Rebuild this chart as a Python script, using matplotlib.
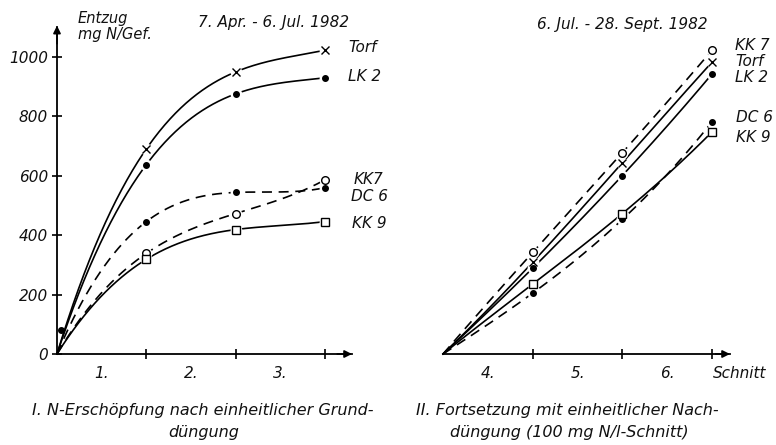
import numpy as np
import matplotlib
matplotlib.use("Agg")
import matplotlib.pyplot as plt

# ---------------- data ----------------
cuts = [0, 1, 2, 3]
# Period I: 7 Apr - 6 Jul 1982 (cumulative N uptake, mg N / pot)
torf_I = [0, 691, 950, 1023]
lk2_I = [0, 638, 876, 930]
dc6_I = [0, 446, 544, 560]
kk7_I = [0, 339, 473, 587]
kk9_I = [0, 319, 419, 446]
start_dot_x = [0.04]
start_dot_y = [80]
# Period II: 6 Jul - 28 Sept 1982
torf_II = [0, 309, 644, 983]
lk2_II = [0, 289, 601, 943]
dc6_II = [0, 205, 453, 782]
kk7_II = [0, 342, 678, 1023]
kk9_II = [0, 235, 473, 748]

yticks = [0, 200, 400, 600, 800, 1000]
xlabels_I = ["1.", "2.", "3."]
xlabels_II = ["4.", "5.", "6."]

W, H = 776, 445
fig = plt.figure(figsize=(W / 100, H / 100), dpi=100)
fx = lambda px: px / W
fy = lambda py: 1 - py / H

FONT = dict(family="DejaVu Sans", style="italic", color="#111111")
LW = 1.2
DASH = (0, (6, 4))

axL = fig.add_axes([fx(57), fy(354), 295 / W, 326.7 / H])
axR = fig.add_axes([fx(443), fy(354), 287 / W, 326.7 / H])

for ax, xmax, labs in ((axL, 3.3, xlabels_I), (axR, 3.2, xlabels_II)):
    ax.set_xlim(0, xmax)
    ax.set_ylim(0, 1100)
    ax.patch.set_alpha(0)
    for s in ("top", "right"):
        ax.spines[s].set_visible(False)
    ax.spines["bottom"].set_linewidth(1.3)
    ax.spines["left"].set_linewidth(1.3)
    ax.set_xticks([1, 2, 3])
    ax.set_xticklabels([])
    ax.tick_params(axis="x", which="major", direction="inout", length=7, width=1.2)
    ax.set_xticks([0.5, 1.5, 2.5], minor=True)
    ax.set_xticklabels(labs, minor=True, fontsize=11, **FONT)
    ax.tick_params(axis="x", which="minor", length=0, pad=9)
    ax.annotate("", xy=(1, 0), xycoords="axes fraction", xytext=(0.95, 0),
                arrowprops=dict(arrowstyle="-|>", color="k", lw=1.2,
                                mutation_scale=11, shrinkA=0, shrinkB=0))

axR.spines["left"].set_visible(False)
axR.set_yticks([])
axL.set_yticks(yticks)
axL.set_yticklabels([str(v) for v in yticks], fontsize=11, **FONT)
axL.tick_params(axis="y", direction="inout", length=7, width=1.2, pad=3)
axL.annotate("", xy=(0, 1.005), xycoords="axes fraction", xytext=(0, 0.95),
             arrowprops=dict(arrowstyle="-|>", color="k", lw=1.2,
                             mutation_scale=11, shrinkA=0, shrinkB=0))

series = [
    ("Torf", "-", "x", "none", 5.5),
    ("LK 2", "-", "o", "k", 4),
    ("DC 6", DASH, "o", "k", 4),
    ("KK 7", DASH, "o", "white", 5.5),
    ("KK 9", "-", "s", "white", 5.5),
]
data_I = [torf_I, lk2_I, dc6_I, kk7_I, kk9_I]
data_II = [torf_II, lk2_II, dc6_II, kk7_II, kk9_II]

xs = np.linspace(0, 3, 300)
for ax, dataset in ((axL, data_I), (axR, data_II)):
    for (name, ls, mk, fc, ms), vals in zip(series, dataset):
        coef = np.polyfit(cuts, vals, len(cuts) - 1)  # smooth curve through the points
        ax.plot(xs, np.polyval(coef, xs), color="k", lw=LW, linestyle=ls,
                zorder=2, clip_on=False)
    for (name, ls, mk, fc, ms), vals in zip(series, dataset):
        ax.plot(cuts[1:], vals[1:], linestyle="none", marker="o", ms=8.5,
                mfc="white", mec="none", zorder=3, clip_on=False)
    for (name, ls, mk, fc, ms), vals in zip(series, dataset):
        ax.plot(cuts[1:], vals[1:], linestyle="none", marker=mk, ms=ms,
                mfc=fc, mec="k", mew=1.0, zorder=4, clip_on=False)

axL.plot(start_dot_x, start_dot_y, "o", color="k", ms=4, zorder=4, clip_on=False)

# series labels
for txt, px, py in (("Torf", 348, 47), ("LK 2", 348, 77), ("KK7", 354, 180),
                    ("DC 6", 351, 196), ("KK 9", 352, 223)):
    fig.text(fx(px), fy(py), txt, fontsize=11, va="center", ha="left", **FONT)
for txt, px, py in (("KK 7", 735, 45), ("Torf", 735, 61), ("LK 2", 735, 78),
                    ("DC 6", 736, 118), ("KK 9", 736, 137)):
    fig.text(fx(px), fy(py), txt, fontsize=11, va="center", ha="left", **FONT)

fig.text(fx(78), fy(18), "Entzug", fontsize=10.5, va="center", ha="left", **FONT)
fig.text(fx(78), fy(34), "mg N/Gef.", fontsize=10.5, va="center", ha="left", **FONT)
fig.text(fx(274), fy(23), "7. Apr. - 6. Jul. 1982", fontsize=11, va="center", ha="center", **FONT)
fig.text(fx(622), fy(25), "6. Jul. - 28. Sept. 1982", fontsize=11, va="center", ha="center", **FONT)
fig.text(fx(713), fy(374), "Schnitt", fontsize=11, va="center", ha="left", **FONT)

fig.text(fx(203), fy(410), "I. N-Erschöpfung nach einheitlicher Grund-", fontsize=11.5,
         va="center", ha="center", **FONT)
fig.text(fx(204), fy(433), "düngung", fontsize=11.5, va="center", ha="center", **FONT)
fig.text(fx(567), fy(410), "II. Fortsetzung mit einheitlicher Nach-", fontsize=11.5,
         va="center", ha="center", **FONT)
fig.text(fx(569), fy(433), "düngung (100 mg N/l-Schnitt)", fontsize=11.5,
         va="center", ha="center", **FONT)

fig.savefig("out.png", dpi=100, facecolor="white")
